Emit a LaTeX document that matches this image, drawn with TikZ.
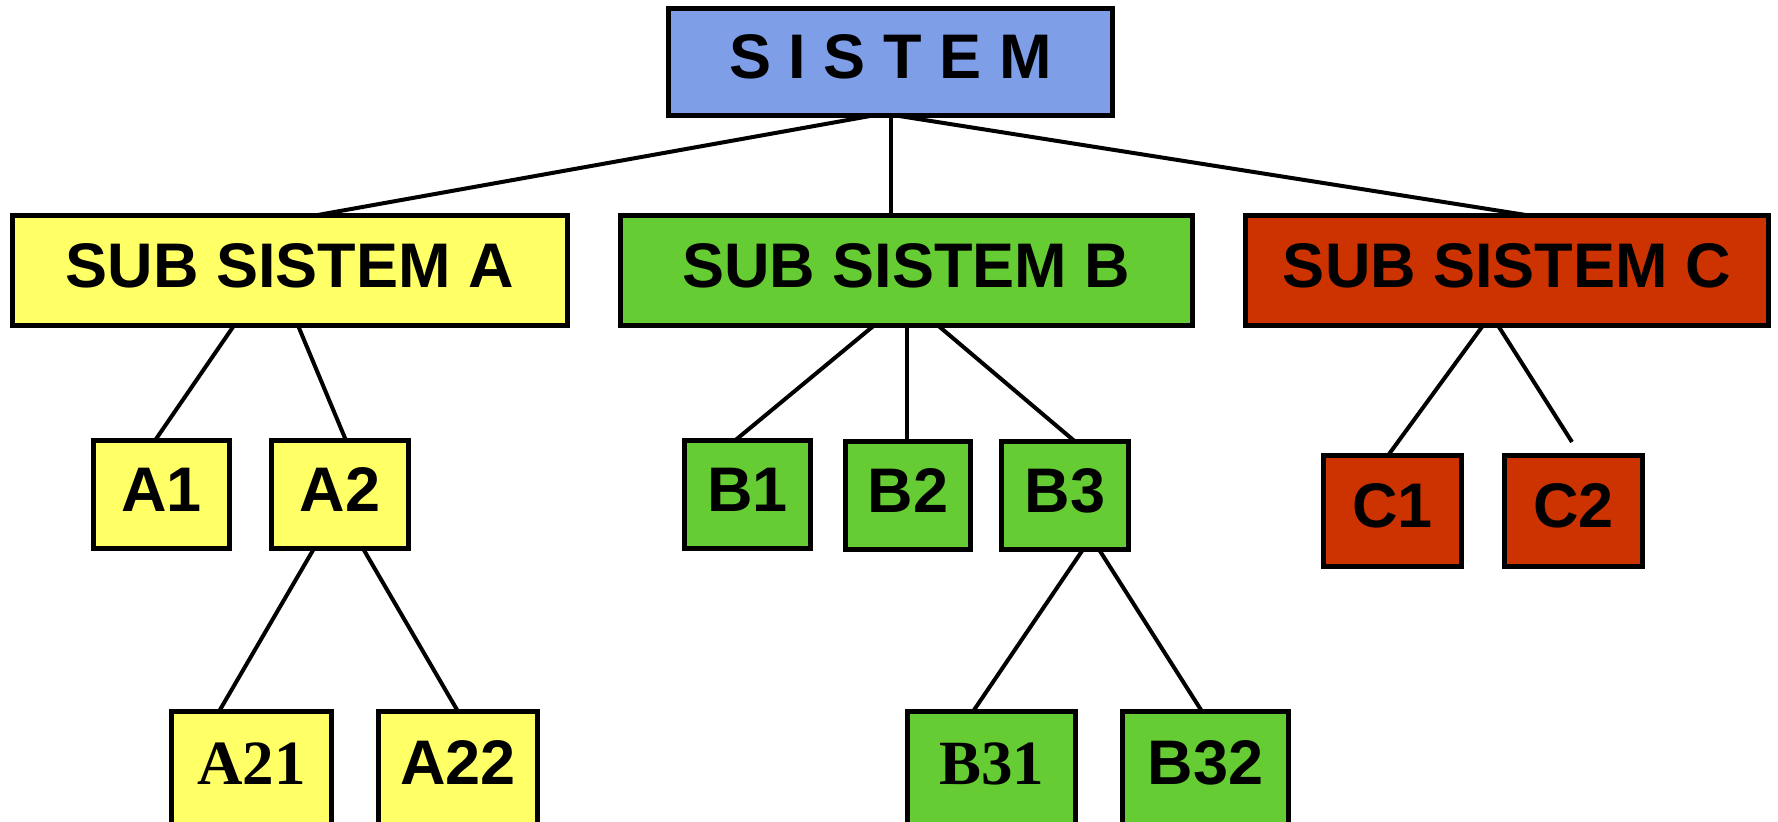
\documentclass[tikz,border=0pt]{standalone}
\usepackage{fontspec}
\setmainfont{Liberation Sans}
\newfontfamily\serifbold{Liberation Serif}
\definecolor{sysblue}{RGB}{127,158,232}
\definecolor{subyellow}{RGB}{255,255,102}
\definecolor{subgreen}{RGB}{102,204,51}
\definecolor{subred}{RGB}{204,51,0}
\def\u{0.5pt}
\begin{document}
\begin{tikzpicture}[x=0.5pt,y=-0.5pt,
  box/.style={draw=black,line width=2.5pt,rectangle,inner sep=0pt,outer sep=0pt,
    font=\fontsize{31.5pt}{36pt}\selectfont\bfseries,text height=22.6pt,text depth=6pt},
  link/.style={draw=black,line width=2pt},
  lbl/.style={inner sep=0pt,font=\fontsize{31.5pt}{36pt}\selectfont\bfseries,text height=22.6pt,text depth=0pt}]
\useasboundingbox (0,0) rectangle (1778,822);
\clip (0,0) rectangle (1778,822);
% connectors
\coordinate (c2end) at (1572,442);
% top
\node[box,fill=sysblue,minimum width=444*\u,minimum height=107*\u] (S) at (890.5,62) {S I S T E M};
% level 1
\node[box,fill=subyellow,minimum width=555*\u,minimum height=110*\u] (SA) at (290,270.5) {SUB SISTEM A};
\node[box,fill=subgreen,minimum width=572*\u,minimum height=110*\u] (SB) at (906.5,270.5) {SUB SISTEM B};
\node[box,fill=subred,minimum width=523*\u,minimum height=110*\u] (SC) at (1507,270.5) {SUB SISTEM C};
% level 2
\node[box,fill=subyellow,minimum width=136*\u,minimum height=108*\u] (A1) at (161.5,494.5) {A1};
\node[box,fill=subyellow,minimum width=137*\u,minimum height=108*\u] (A2) at (340,494.5) {A2};
\node[box,fill=subgreen,minimum width=126*\u,minimum height=108*\u] (B1) at (747.5,494.5) {B1};
\node[box,fill=subgreen,minimum width=125*\u,minimum height=108*\u] (B2) at (908,495.5) {B2};
\node[box,fill=subgreen,minimum width=127*\u,minimum height=108*\u] (B3) at (1065,495.5) {B3};
\node[box,fill=subred,minimum width=138*\u,minimum height=111*\u] (C1) at (1392.5,511) {C1};
\node[box,fill=subred,minimum width=138*\u,minimum height=111*\u] (C2) at (1573.5,511) {C2};
% level 3 boxes (cut by the lower edge)
\node[box,fill=subyellow,minimum width=160*\u,minimum height=135*\u] (A21) at (251.5,779) {};
\node[box,fill=subyellow,minimum width=159*\u,minimum height=135*\u] (A22) at (458,779) {};
\node[box,fill=subgreen,minimum width=168*\u,minimum height=135*\u] (B31) at (991.5,779) {};
\node[box,fill=subgreen,minimum width=166*\u,minimum height=135*\u] (B32) at (1205.5,779) {};
\node[lbl,font=\fontsize{31.5pt}{36pt}\selectfont\serifbold\bfseries] (A21t) at (251.5,762) {A21};
\node[lbl] (A22t) at (458,762) {A22};
\node[lbl,font=\fontsize{31.5pt}{36pt}\selectfont\serifbold\bfseries] (B31t) at (991.5,762) {B31};
\node[lbl] (B32t) at (1205.5,762) {B32};
\draw[link] ([xshift=-17.5*\u]S.south) -- ([xshift=25*\u]SA.north);
\draw[link] (S.south) -- (S.south |- SB.north);
\draw[link] ([xshift=5.5*\u]S.south) -- ([xshift=22*\u]SC.north);
\draw[link] ([xshift=-56*\u]SA.south) -- ([xshift=-6.5*\u]A1.north);
\draw[link] ([xshift=8*\u]SA.south) -- ([xshift=6*\u]A2.north);
\draw[link] ([xshift=-32.5*\u]SB.south) -- ([xshift=-12.5*\u]B1.north);
\draw[link] (SB.south) -- (SB.south |- B2.north);
\draw[link] ([xshift=31.5*\u]SB.south) -- ([xshift=10*\u]B3.north);
\draw[link] ([xshift=-26*\u]A2.south) -- ([xshift=-32.5*\u]A21.north);
\draw[link] ([xshift=23*\u]A2.south) -- (A22.north);
\draw[link] ([xshift=18*\u]B3.south) -- ([xshift=-18.5*\u]B31.north);
\draw[link] ([xshift=34*\u]B3.south) -- ([xshift=-3.5*\u]B32.north);
\draw[link] ([xshift=-24*\u]SC.south) -- ([xshift=-4.5*\u]C1.north);
\draw[link] ([xshift=-9*\u]SC.south) -- (c2end);
\end{tikzpicture}
\end{document}
